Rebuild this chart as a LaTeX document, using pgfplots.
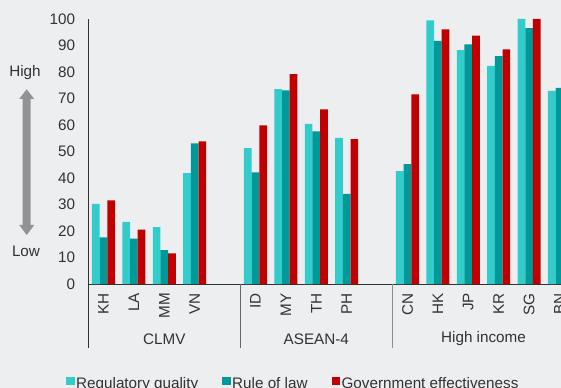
\documentclass[border=0pt]{standalone}
\usepackage{pgfplots}
\usepackage{pgfplotstable}
\pgfplotsset{compat=1.18}
\usepackage{fontspec}
\setmainfont{Liberation Sans}
\definecolor{bg}{RGB}{237,238,240}
\definecolor{rq}{RGB}{51,204,204}
\definecolor{rl}{RGB}{0,153,153}
\definecolor{ge}{RGB}{192,0,0}
\definecolor{txt}{RGB}{50,50,50}
\definecolor{arr}{RGB}{145,146,150}
\newcommand{\fs}{\fontsize{15.3}{18}\selectfont}
\pgfplotsset{sqlegend/.style={legend image code/.code={\fill[##1] (0bp,-1bp) rectangle (8.5bp,7.5bp);}}}
\pgfplotstableread{
x rq rl ge
0 30.2 17.6 31.6
1 23.4 17.1 20.5
2 21.5 12.8 11.6
3 41.8 53.1 53.8
5 51.3 42.1 59.9
6 73.5 73.1 79.2
7 60.4 57.6 65.9
8 55.1 34.0 54.7
10 42.6 45.2 71.6
11 99.5 91.7 96.1
12 88.3 90.4 93.7
13 82.3 86.0 88.5
14 100 96.6 100
15 72.9 74.0 nan
}\data
\begin{document}
\begin{tikzpicture}
\path[use as bounding box, fill=bg] (0,0) rectangle (561bp,388bp);
\clip (0,0) rectangle (561bp,388bp);
\begin{axis}[
  at={(88.3bp,104bp)}, anchor=south west,
  x=30.4bp, y=2.65bp,
  xmin=-0.5, xmax=15.05, ymin=0, ymax=100,
  axis x line=bottom, axis y line=left,
  axis line style={-, draw=txt, line width=0.8bp},
  clip=false,
  ybar, bar width=7.67bp,
  xtick={0,1,2,3,5,6,7,8,10,11,12,13,14,15},
  xticklabels={KH,LA,MM,VN,ID,MY,TH,PH,CN,HK,JP,KR,SG,BN},
  ytick={0,10,...,100},
  major tick length=0,
  /pgf/number format/assume math mode=true,
  tick label style={font=\fs, text=txt},
  xticklabel style={rotate=90, anchor=east, inner ysep=0pt, inner xsep=9bp},
  yticklabel style={anchor=east, inner ysep=0pt, inner xsep=13bp},
  legend columns=3,
  legend style={draw=none, fill=none, at={(-0.0472,-0.3774)}, anchor=west,
    font=\fs, text=txt, inner sep=0pt,
    nodes={inner xsep=1.5bp, inner ysep=1bp},
    /tikz/every even column/.append style={column sep=22.5bp}},
]
\addplot[fill=rq, draw=none, bar shift=-7.67bp, sqlegend] table[x=x, y=rq] {\data};
\addplot[fill=rl, draw=none, bar shift=0bp, sqlegend] table[x=x, y=rl] {\data};
\addplot[fill=ge, draw=none, bar shift=7.67bp, sqlegend] table[x=x, y=ge] {\data};
\legend{Regulatory quality, Rule of law, Government effectiveness}
\draw[txt, line width=0.8bp] (axis cs:-0.5,0) -- (axis cs:-0.5,-24.15);
\draw[black!60, line width=0.8bp] (axis cs:4.5,0) -- (axis cs:4.5,-24.15);
\draw[black!45, line width=0.8bp] (axis cs:9.5,0) -- (axis cs:9.5,-24.15);
\node[font=\fs, text=txt] at (axis cs:2,-20.75) {CLMV};
\node[font=\fs, text=txt] at (axis cs:7,-20.75) {ASEAN-4};
\node[font=\fs, text=txt] at (axis cs:12.5,-20.75) {High income};
\end{axis}
\fill[arr] (26.7bp,298.7bp) -- (34.2bp,289bp) -- (30.7bp,289bp) -- (30.7bp,163bp) -- (34.2bp,163bp) -- (26.7bp,153bp) -- (19.2bp,163bp) -- (22.7bp,163bp) -- (22.7bp,289bp) -- (19.2bp,289bp) -- cycle;
\node[font=\fs, text=txt] at (25bp,315bp) {High};
\node[font=\fs, text=txt] at (26bp,137bp) {Low};
\end{tikzpicture}
\end{document}
